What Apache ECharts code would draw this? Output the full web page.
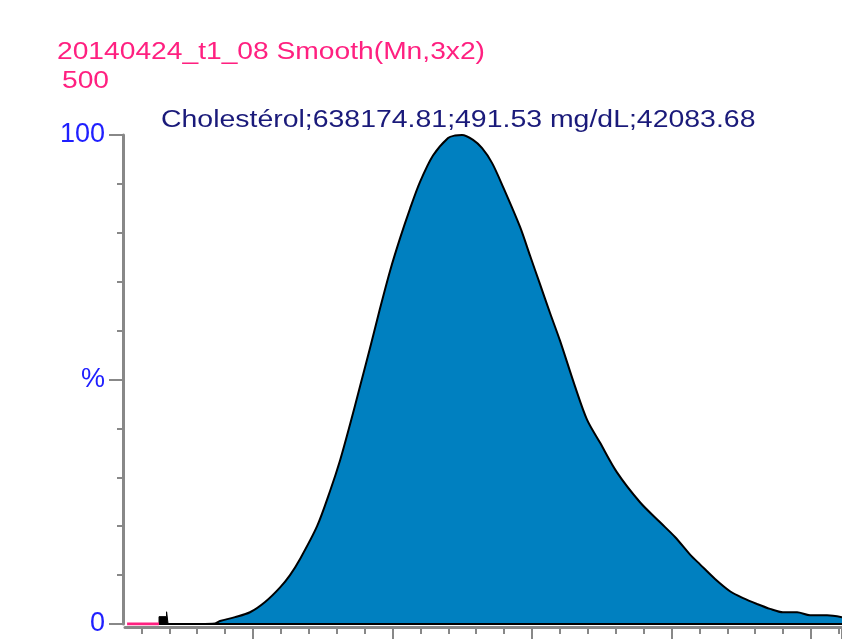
<!DOCTYPE html>
<html>
<head>
<meta charset="utf-8">
<script src="https://cdn.jsdelivr.net/npm/echarts@6/dist/echarts.min.js"></script>
<style>
  html, body { margin: 0; padding: 0; background: #fff; }
  #chart { width: 842px; height: 639px; }
</style>
</head>
<body>
<div id="chart"></div>
<script>
// retention time (one major tick = 1 unit) and relative intensity (%)
const peakTime = [
  1.391, 1.620, 1.728, 1.763, 1.871, 1.978, 2.086, 2.194, 2.265, 2.337,
  2.459, 2.552, 2.624, 2.695, 2.767, 2.839, 2.910, 2.982, 3.054, 3.125,
  3.197, 3.290, 3.398, 3.448, 3.498, 3.577, 3.642, 3.713, 3.792, 3.914,
  3.986, 4.057, 4.129, 4.201, 4.308, 4.394, 4.487, 4.609, 4.774, 4.918,
  5.025, 5.133, 5.204, 5.312, 5.419, 5.513, 5.613, 5.706, 5.799, 5.900,
  5.993, 6.115, 6.222
];
const peakIntensity = [
  0, 0, 0.1, 0.6, 1.4, 2.4, 4.5, 7.5, 10.0, 13.3,
  20.0, 27.2, 33.5, 40.8, 48.6, 56.5, 64.5, 72.2, 78.9, 84.9,
  90.4, 95.8, 99.4, 99.9, 100, 99.0, 97.3, 94.3, 89.4, 81.2,
  75.3, 69.5, 63.6, 57.9, 48.6, 41.8, 37.1, 31.0, 24.9, 20.8,
  17.8, 14.2, 12.2, 9.2, 6.7, 5.3, 4.1, 3.1, 2.4, 2.4,
  1.8, 1.8, 1.4
];
// pink trace before the window, and the small black blip
const preTime = [1.097, 1.326];
const preIntensity = [0, 0];
const blipTime = [1.326, 1.326, 1.380, 1.380, 1.391, 1.391];
const blipIntensity = [0, 1.5, 1.5, 2.5, 2.5, 0];

const yTickLabels = { 0: '0', 50: '%', 100: '100' };

const titleText = '20140424_t1_08 Smooth(Mn,3x2)';
const scaleText = '500';
const peakText = 'Cholestérol;638174.81;491.53 mg/dL;42083.68';

const FONT = '"Liberation Sans", Arial, sans-serif';
const PINK = '#ff2080';
const GRAY = '#888888';

const zip = (xs, ys) => xs.map((x, i) => [x, ys[i]]);

const chart = echarts.init(document.getElementById('chart'));

const hidden = { show: false };
const tickOnlyX = (grid, min, interval, len, width) => ({
  gridIndex: grid, type: 'value', min: min, max: 6.222, interval: interval,
  offset: 3,
  axisLine: { show: false, onZero: false },
  axisTick: { show: true, length: len, lineStyle: { color: GRAY, width: width } },
  axisLabel: hidden, splitLine: hidden
});

chart.setOption({
  animation: false,
  backgroundColor: '#fff',
  grid: [
    { left: 125, right: 0, top: 135, bottom: 15, outerBoundsMode: 'none' },
    { left: 253, right: 0, top: 135, bottom: 15, outerBoundsMode: 'none' },
    { left: 141.4, right: 0, top: 135, bottom: 15, outerBoundsMode: 'none' }
  ],
  graphic: [
    { type: 'text', x: 57, y: 53, scaleX: 1.2,
      style: { text: titleText, fill: PINK, font: '23.5px ' + FONT, textVerticalAlign: 'middle', verticalAlign: 'middle' } },
    { type: 'text', x: 62, y: 82, scaleX: 1.2,
      style: { text: scaleText, fill: PINK, font: '23.5px ' + FONT, textVerticalAlign: 'middle', verticalAlign: 'middle' } },
    { type: 'text', x: 161, y: 121, scaleX: 1.21,
      style: { text: peakText, fill: '#1a1a7a', font: '23.5px ' + FONT, textVerticalAlign: 'middle', verticalAlign: 'middle' } }
  ],
  xAxis: [
    {
      gridIndex: 0, type: 'value', min: 1.082, max: 6.222,
      offset: 3,
      axisLine: { show: true, onZero: false, lineStyle: { color: GRAY, width: 3 } },
      axisTick: hidden, axisLabel: hidden, splitLine: hidden
    },
    tickOnlyX(1, 2, 1, 12, 2),   // major ticks
    tickOnlyX(2, 1.2, 0.2, 7, 2) // minor ticks
  ],
  yAxis: [
    {
      gridIndex: 0, type: 'value', min: 0, max: 100, interval: 10, offset: 2,
      axisLine: { show: true, lineStyle: { color: GRAY, width: 3 } },
      axisTick: { show: true, length: 6, lineStyle: { color: GRAY, width: 2 } },
      axisLabel: hidden, splitLine: hidden
    },
    {
      gridIndex: 0, type: 'value', min: 0, max: 100, interval: 50, offset: 2, position: 'left',
      axisLine: { show: false },
      axisTick: { show: true, length: 14, lineStyle: { color: GRAY, width: 2 } },
      axisLabel: {
        margin: 18, color: '#2020ff', fontSize: 27, fontFamily: FONT,
        formatter: v => yTickLabels[v] || ''
      },
      splitLine: hidden
    },
    { gridIndex: 1, type: 'value', min: 0, max: 100, show: false },
    { gridIndex: 2, type: 'value', min: 0, max: 100, show: false }
  ],
  series: [
    {
      name: 'Cholestérol', type: 'line', xAxisIndex: 0, yAxisIndex: 0,
      data: zip(peakTime, peakIntensity),
      smooth: 0.3, symbol: 'none', z: 3,
      lineStyle: { color: '#000', width: 2 },
      areaStyle: { color: '#0080c0', opacity: 1 }
    },
    {
      name: 'baseline', type: 'line', xAxisIndex: 0, yAxisIndex: 0,
      data: [[blipTime[0], 0], [peakTime[peakTime.length - 1], 0]],
      symbol: 'none', z: 4,
      lineStyle: { color: '#000', width: 2 }
    },
    {
      name: 'blip', type: 'line', xAxisIndex: 0, yAxisIndex: 0,
      data: zip(blipTime, blipIntensity),
      symbol: 'none', z: 4,
      lineStyle: { color: '#000', width: 1 },
      areaStyle: { color: '#000', opacity: 1 }
    },
    {
      name: 'pre', type: 'line', xAxisIndex: 0, yAxisIndex: 0,
      data: zip(preTime, preIntensity),
      symbol: 'none', z: 4,
      lineStyle: { color: PINK, width: 3 }
    }
  ]
});
</script>
</body>
</html>
